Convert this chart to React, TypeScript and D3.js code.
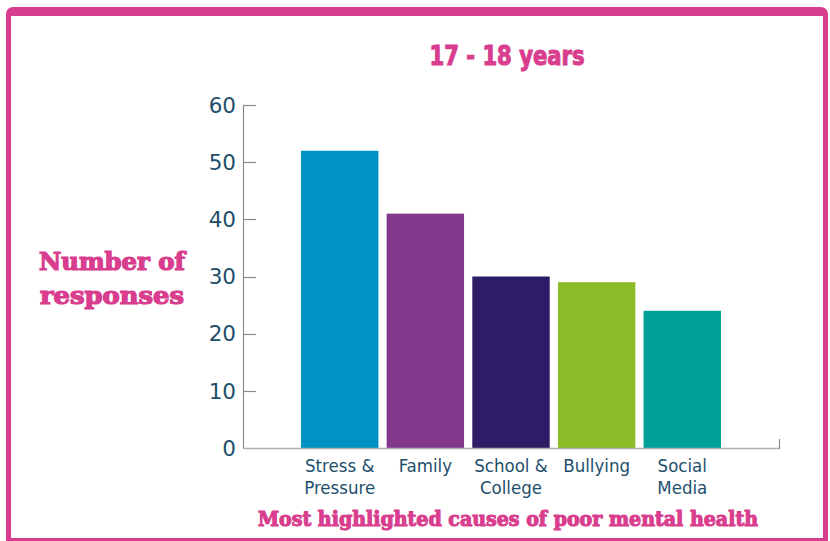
import React, { useEffect, useRef } from "react";
import * as d3 from "d3";

const categories = ["Stress & Pressure", "Family", "School & College", "Bullying", "Social Media"];
const categoryLines = [["Stress &", "Pressure"], ["Family"], ["School &", "College"], ["Bullying"], ["Social", "Media"]];
const values = [52, 41, 30, 29, 24];
const barColors = ["#0092c2", "#84388c", "#2d1d66", "#8cbb28", "#00a096"];
const yTicks = [0, 10, 20, 30, 40, 50, 60];
const title = "17 - 18 years";
const yLabel = ["Number of", "responses"];
const xLabel = "Most highlighted causes of poor  mental health";

const PINK = "#d93d8e";
const TEXT = "#1d4f6c";

export default function App() {
  const ref = useRef<SVGSVGElement>(null);
  useEffect(() => {
    const svg = d3.select(ref.current);
    svg.selectAll("*").remove();

    // frame
    svg.append("rect").attr("x", 6).attr("y", 7).attr("width", 822).attr("height", 545).attr("rx", 7).attr("fill", PINK);
    svg.append("rect").attr("x", 11).attr("y", 16).attr("width", 812).attr("height", 522).attr("fill", "#fff");

    const x = d3.scaleBand().domain(categories).range([301, 721]).paddingInner(0.096).paddingOuter(0);
    const y = d3.scaleLinear().domain([0, 60]).range([448, 105]);

    // bars
    svg.selectAll("rect.bar").data(values).enter().append("rect")
      .attr("class", "bar")
      .attr("x", (_, i) => x(categories[i])!)
      .attr("width", x.bandwidth())
      .attr("y", d => y(d))
      .attr("height", d => y(0) - y(d))
      .attr("fill", (_, i) => barColors[i]);

    // axes
    const axisColor = "#8a8a8a";
    svg.append("line").attr("x1", 243.5).attr("x2", 243.5).attr("y1", y(60)).attr("y2", y(0)).attr("stroke", axisColor).attr("stroke-width", 1.2);
    svg.append("line").attr("x1", 243).attr("x2", 780).attr("y1", y(0) + 0.5).attr("y2", y(0) + 0.5).attr("stroke", "#b0b0b0").attr("stroke-width", 1.5);
    svg.append("line").attr("x1", 779.5).attr("x2", 779.5).attr("y1", y(0) - 9).attr("y2", y(0) + 1).attr("stroke", axisColor).attr("stroke-width", 1.2);
    yTicks.forEach(t => {
      if (t > 0) {
        svg.append("line").attr("x1", 243).attr("x2", 256).attr("y1", Math.round(y(t)) + 0.5).attr("y2", Math.round(y(t)) + 0.5)
          .attr("stroke", axisColor).attr("stroke-width", 1.2);
      }
      svg.append("text").attr("x", 236).attr("y", y(t)).attr("dy", "0.36em").attr("text-anchor", "end")
        .attr("font-family", "DejaVu Sans").attr("font-size", 21.5).attr("fill", TEXT).text(String(t));
    });

    // category labels
    categories.forEach((c, i) => {
      const cx = x(c)! + x.bandwidth() / 2;
      categoryLines[i].forEach((ln, j) => {
        svg.append("text").attr("x", cx).attr("y", 472 + j * 22).attr("text-anchor", "middle")
          .attr("font-family", "DejaVu Sans Condensed").attr("font-size", 18.5).attr("fill", TEXT).text(ln);
      });
    });

    // title
    svg.append("text").attr("x", 507).attr("y", 65).attr("text-anchor", "middle")
      .attr("font-family", "DejaVu Sans Condensed").attr("font-weight", "bold").attr("font-size", 26)
      .attr("fill", PINK).attr("stroke", PINK).attr("stroke-width", 1)
      .attr("textLength", 155).attr("lengthAdjust", "spacingAndGlyphs").text(title);

    // y label
    yLabel.forEach((ln, j) => {
      svg.append("text").attr("x", 112).attr("y", 270 + j * 34).attr("text-anchor", "middle")
        .attr("font-family", "DejaVu Serif Condensed").attr("font-weight", "bold").attr("font-size", 25)
        .attr("fill", PINK).attr("stroke", PINK).attr("stroke-width", 1.2)
        .attr("textLength", j === 0 ? 146 : 144).attr("lengthAdjust", "spacingAndGlyphs").text(ln);
    });

    // x label
    svg.append("text").attr("x", 508).attr("y", 526).attr("text-anchor", "middle")
      .attr("font-family", "DejaVu Serif Condensed").attr("font-weight", "bold").attr("font-size", 20)
      .attr("fill", PINK).attr("stroke", PINK).attr("stroke-width", 1)
      .attr("textLength", 500).attr("lengthAdjust", "spacingAndGlyphs").text(xLabel);
  }, []);
  return (
    <svg ref={ref} width={830} height={541} style={{ position: "absolute", left: 0, top: 0, background: "#fff" }} />
  );
}
